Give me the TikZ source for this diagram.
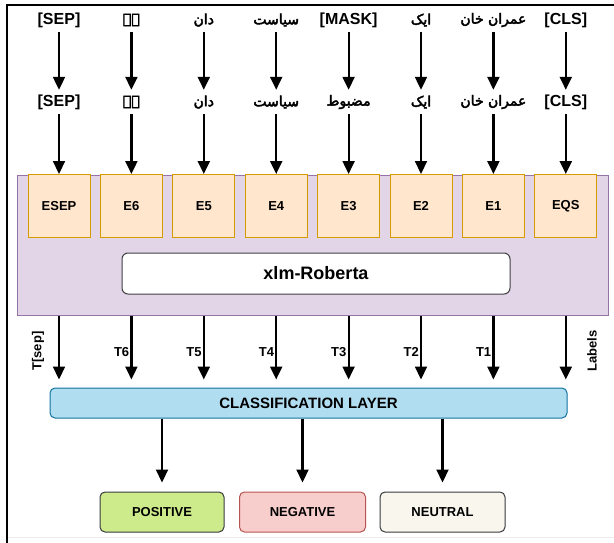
\documentclass[tikz,border=0pt]{standalone}
\usepackage{fontspec}
\setmainfont{Liberation Sans}
\newfontfamily\urdu[Script=Arabic,FakeBold=3]{DejaVu Sans}
\newfontfamily\urdumono[Script=Arabic,FakeBold=3]{DejaVu Sans Mono}
\TeXXeTstate=1
\usetikzlibrary{arrows.meta}
\definecolor{efill}{HTML}{FFE6CC}
\definecolor{eborder}{HTML}{D79B00}
\definecolor{pfill}{HTML}{E1D5E7}
\definecolor{pborder}{HTML}{9673A6}
\definecolor{cfill}{HTML}{B1DDF0}
\definecolor{cborder}{HTML}{10739E}
\definecolor{posfill}{HTML}{CDEB8B}
\definecolor{negfill}{HTML}{F8CECC}
\definecolor{negborder}{HTML}{B85450}
\definecolor{neufill}{HTML}{F9F7ED}
\definecolor{darkb}{HTML}{36393D}
\begin{document}
\begin{tikzpicture}[x=1pt,y=-1pt,
  arr/.style={line width=2.2pt,-{Triangle[width=12pt,length=13pt]}},
  tok/.style={inner sep=0pt,minimum height=24pt,font=\bfseries\fontsize{16}{16}\selectfont},
  utok/.style={inner sep=0pt,minimum height=24pt,font=\urdu\fontsize{14}{14}\selectfont},
  umtok/.style={inner sep=0pt,minimum height=24pt,font=\urdumono\fontsize{14}{14}\selectfont},
  ebox/.style={draw=eborder,fill=efill,line width=1pt,minimum width=62pt,minimum height=63pt,anchor=north,inner sep=0pt,font=\bfseries\fontsize{13}{13}\selectfont},
  tlab/.style={inner sep=0pt,font=\bfseries\fontsize{13}{13}\selectfont},
  outbox/.style={rounded corners=5pt,line width=1pt,minimum height=40pt,inner sep=0pt,font=\bfseries\fontsize{13}{13}\selectfont}]
\useasboundingbox (0,0) rectangle (614,543);
% frame
\draw[black!8,line width=1pt] (7,537) -- (614,537);
\draw[line width=1.6pt] (7,543) -- (7,5) -- (614,5);
% purple panel
\node[draw=pborder,fill=pfill,line width=1pt,minimum width=591pt,minimum height=140pt,inner sep=0pt] (panel) at (312.5,245) {};
% top tokens
\node[tok]  (t1) at (59,20)    {[SEP]};
\node[umtok] (t2) at (131.4,20) {\beginR ہے\endR};
\node[utok] (t3) at (203.8,20) {\beginR دان\endR};
\node[utok] (t4) at (276.2,20) {\beginR سیاست\endR};
\node[tok]  (t5) at (348.6,20) {[MASK]};
\node[utok] (t6) at (421,20)   {\beginR ایک\endR};
\node[utok] (t7) at (493.4,20) {\beginR عمران خان\endR};
\node[tok]  (t8) at (565.8,20) {[CLS]};
% masked tokens
\node[tok]  (m1) at (59,102)    {[SEP]};
\node[umtok] (m2) at (131.4,102) {\beginR ہے\endR};
\node[utok] (m3) at (203.8,102) {\beginR دان\endR};
\node[utok] (m4) at (276.2,102) {\beginR سیاست\endR};
\node[utok] (m5) at (348.6,102) {\beginR مضبوط\endR};
\node[utok] (m6) at (421,102)   {\beginR ایک\endR};
\node[utok] (m7) at (493.4,102) {\beginR عمران خان\endR};
\node[tok]  (m8) at (565.8,102) {[CLS]};
% embedding boxes
\node[ebox] (e1) at (59,174)    {ESEP};
\node[ebox] (e2) at (131.4,174) {E6};
\node[ebox] (e3) at (203.8,174) {E5};
\node[ebox] (e4) at (276.2,174) {E4};
\node[ebox] (e5) at (348.6,174) {E3};
\node[ebox] (e6) at (421,174)   {E2};
\node[ebox] (e7) at (493.4,174) {E1};
\node[ebox] (e8) at (565.8,174) {EQS};
% roberta
\node[draw=black!75,fill=white,rounded corners=6pt,line width=1pt,minimum width=388pt,minimum height=41pt,inner sep=0pt,font=\bfseries\fontsize{18}{18}\selectfont] (rob) at (316,273.5) {xlm-Roberta};
% classification
\node[draw=cborder,fill=cfill,rounded corners=5pt,line width=1pt,minimum width=517pt,minimum height=30pt,inner sep=0pt,font=\bfseries\fontsize{15}{15}\selectfont] (cls) at (308.5,403) {CLASSIFICATION LAYER};
% outputs
\node[outbox,draw=darkb,fill=posfill,minimum width=124pt] (pos) at (162,512) {POSITIVE};
\node[outbox,draw=negborder,fill=negfill,minimum width=126pt] (neg) at (302.5,512) {NEGATIVE};
\node[outbox,draw=darkb,fill=neufill,minimum width=125pt] (neu) at (442.5,512) {NEUTRAL};
% arrows
\foreach \i in {1,...,8} {
  \draw[arr] (t\i.south) -- (m\i.north);
  \draw[arr] (m\i.south) -- (e\i.north);
  \draw[arr,shorten >=8pt] (panel.south -| e\i) -- (cls.north -| e\i);
}
\draw[arr,shorten >=9pt] (cls.south -| pos) -- (pos.north);
\draw[arr,shorten >=9pt] (cls.south -| neg) -- (neg.north);
\draw[arr,shorten >=9pt] (cls.south -| neu) -- (neu.north);
% T labels
\node[tlab,rotate=90] (lsep) at (38,351) {T[sep]};
\node[tlab,anchor=east] (l6) at (129.4,352) {T6};
\node[tlab,anchor=east] (l5) at (201.8,352) {T5};
\node[tlab,anchor=east] (l4) at (274.2,352) {T4};
\node[tlab,anchor=east] (l3) at (346.6,352) {T3};
\node[tlab,anchor=east] (l2) at (419,352) {T2};
\node[tlab,anchor=east] (l1) at (491.4,352) {T1};
\node[tlab,rotate=90] (llab) at (592,351) {Labels};
\end{tikzpicture}
\end{document}
